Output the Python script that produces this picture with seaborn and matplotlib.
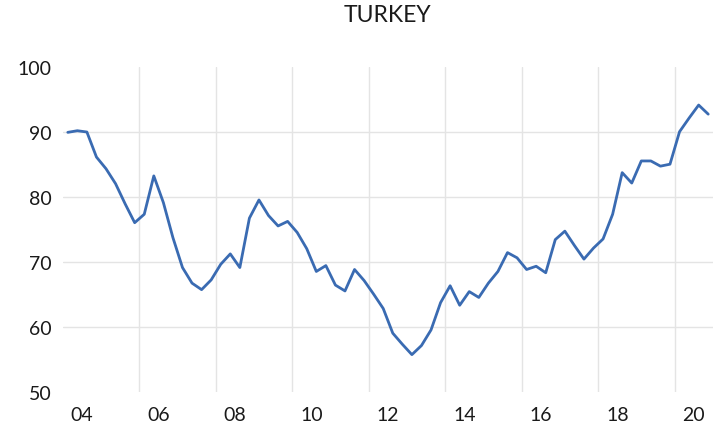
import numpy as np
import pandas as pd
import matplotlib
matplotlib.use('Agg')
import matplotlib.pyplot as plt
import seaborn as sns

# quarterly index, 2004Q1 .. 2020Q4
quarters = pd.period_range('2004Q1', '2020Q4', freq='Q').astype(str).tolist()
values = [89.9, 90.15, 89.95, 86.1, 84.3, 82.0, 78.9, 76.0,
          77.3, 83.2, 79.1, 73.7, 69.1, 66.7, 65.7, 67.2,
          69.6, 71.2, 69.1, 76.7, 79.5, 77.1, 75.5, 76.2,
          74.5, 72.0, 68.5, 69.4, 66.4, 65.5, 68.8, 67.1,
          65.0, 62.8, 59.0, 57.3, 55.7, 57.1, 59.5, 63.7,
          66.3, 63.3, 65.4, 64.5, 66.7, 68.5, 71.4, 70.6,
          68.8, 69.3, 68.3, 73.4, 74.7, 72.5, 70.4, 72.1,
          73.5, 77.3, 83.7, 82.1, 85.5, 85.5, 84.7, 85.0,
          90.0, 92.1, 94.1, 92.7]
year_labels = ['04', '06', '08', '10', '12', '14', '16', '18', '20']

df = pd.DataFrame({'quarter': quarters, 'value': values})
df['idx'] = np.arange(len(df))

sns.set_style('white')
plt.rcParams['font.family'] = ['Lato', 'DejaVu Sans']

fig = plt.figure(figsize=(7.14, 4.27), dpi=100)
ax = fig.add_axes([63/714, 1 - 392.7/427, 650/714, 325/427])

sns.lineplot(data=df, x='idx', y='value', ax=ax, color='#3a6bb2', linewidth=2.0)

ax.set_xlim(-0.5, 67.5)
ax.set_ylim(50, 100)
ax.set_yticks(range(50, 101, 10))
ax.set_xticks([1.5 + 8 * k for k in range(len(year_labels))])
ax.set_xticklabels(year_labels)
ax.set_xticks([7.5 + 8 * k for k in range(8)], minor=True)

ax.grid(axis='y', which='major', color='#e4e4e4', linewidth=1.0)
ax.grid(axis='x', which='minor', color='#e4e4e4', linewidth=1.0)
ylines = ax.yaxis.get_gridlines()
ylines[0].set_visible(False)
ylines[-1].set_visible(False)
ax.set_axisbelow(True)

ax.tick_params(axis='both', which='both', length=0, labelsize=14, colors='#1a1a1a')
ax.tick_params(axis='y', pad=8)
ax.tick_params(axis='x', pad=10)
for s in ax.spines.values():
    s.set_visible(False)
ax.set_xlabel('')
ax.set_ylabel('')

fig.text(387.5/714, 1 - 16/427, 'TURKEY', ha='center', va='center', fontsize=16.5, color='#1a1a1a')

fig.savefig('out.png', dpi=100)
